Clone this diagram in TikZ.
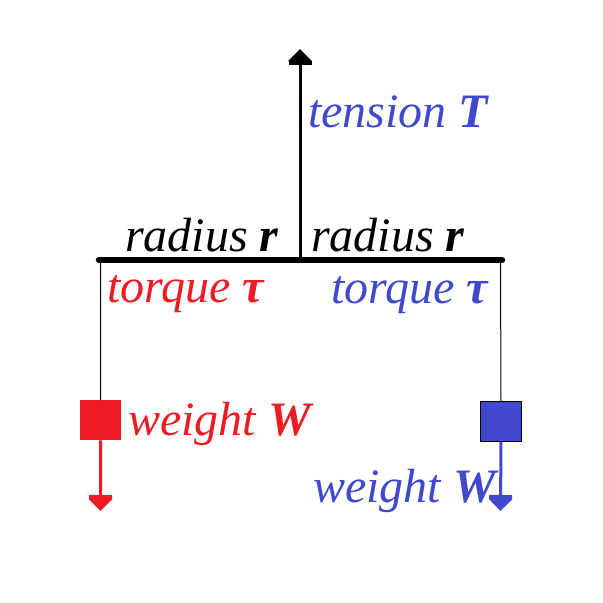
\documentclass[tikz,border=0pt]{standalone}
\usepackage{fontspec}
\setmainfont{Liberation Serif}
\usetikzlibrary{arrows.meta}
\definecolor{myred}{RGB}{237,28,36}
\definecolor{myblue}{RGB}{64,72,204}
\tikzset{
  lbl/.style={anchor=base west, inner sep=0pt, font=\fontsize{48}{52}\selectfont\itshape},
  bigarrow/.style={line width=3pt, -{Rectangle[width=23pt,length=4pt,sep=0pt]Triangle[width=23pt,length=12pt]}},
  stringline/.style={line width=1pt},
  blockbox/.style={minimum width=41pt, minimum height=40pt, inner sep=0pt, anchor=north west}
}
\begin{document}
\begin{tikzpicture}[x=1pt,y=-1pt]
\useasboundingbox (0,0) rectangle (603,603);
% bar
\coordinate (bl) at (99,260);
\coordinate (br) at (502,260);
\coordinate (bc) at (300,260);
\coordinate (ttop) at (300,49);
\coordinate (lhang) at (100.5,260);
\coordinate (rhang) at (500.5,260);
\draw[line width=6.5pt, line cap=round] (bl) -- (br);
\draw[bigarrow] (bc) -- (ttop);
% blocks
\node[blockbox, fill=myred] (lb) at (80,400) {};
\node[blockbox, fill=myblue, draw=black, line width=1pt] (rb) at (480,401) {};
\draw[stringline] (lhang) -- (lb.north);
\draw[stringline] (rhang) -- (rb.north);
\coordinate (ltip) at (100.5,511);
\coordinate (rtip) at (500.5,511);
\draw[bigarrow, myred] (lb.south) -- (ltip);
\draw[bigarrow, myblue] (rb.south) -- (rtip);
% labels
\node[lbl, text=myblue] (tT) at (308,127) {tension \textbf{T}};
\node[lbl] (r1) at (125,251) {radius \textbf{r}};
\node[lbl] (r2) at (311,251) {radius \textbf{r}};
\node[lbl, text=myred] (t1) at (107,302) {torque \textbf{τ}};
\node[lbl, text=myblue] (t2) at (331,303) {torque \textbf{τ}};
\node[lbl, text=myred] (w1) at (128,435) {weight \textbf{W}};
\node[lbl, text=myblue] (w2) at (313,502) {weight \textbf{W}};
\end{tikzpicture}
\end{document}
